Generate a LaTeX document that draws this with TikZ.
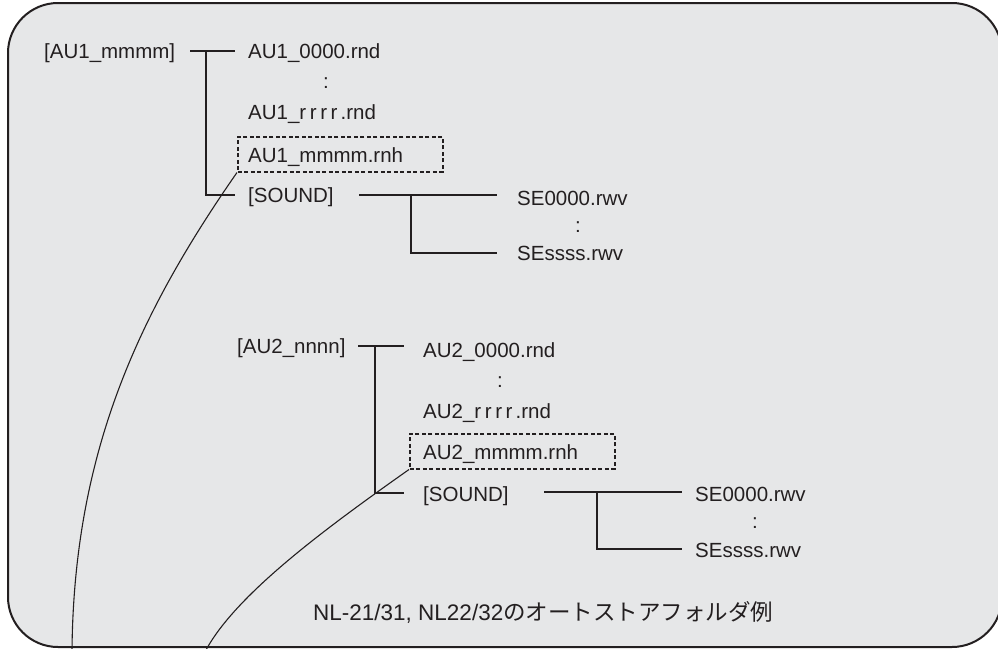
\documentclass[tikz,border=0pt]{standalone}
\usepackage{fontspec}
\setmainfont{Liberation Sans}
\newfontfamily\cjk{Noto Sans CJK JP}
\definecolor{bg}{HTML}{E6E7E8}
\definecolor{ink}{HTML}{231F20}
\begin{document}
\begin{tikzpicture}[x=1pt,y=-1pt,
  font=\fontsize{20.5}{24}\selectfont,
  lbl/.style={inner sep=0pt, anchor=base west, text=ink},
  dots/.style={inner sep=0pt, anchor=base, text=ink},
  tree/.style={draw=ink, line width=1.6pt},
  dbox/.style={draw=ink, dash pattern=on 4pt off 2.5pt, line width=1.5pt, inner sep=0pt, anchor=north west},
  link/.style={draw=ink, line width=1.1pt}]
\useasboundingbox (0,0) rectangle (998,648);
\begin{scope}
  \clip (0,0) rectangle (998,648);
  \draw[fill=bg, draw=ink, line width=2pt, rounded corners=50pt] (8,3) rectangle (1002,647);
\end{scope}

% ---------- upper tree ----------
\node[lbl] (au1) at (44,58) {[AU1\_mmmm]};
\node[lbl] (f1a) at (248,58) {AU1\_0000.rnd};
\node[dots] (c1a) at (326,88) {:};
\node[lbl] (f1b) at (248,119) {AU1\_r\kern3.6pt r\kern3.6pt r\kern3.6pt r\kern3pt.rnd};
\node[dbox, minimum width=205pt, minimum height=35pt] (box1) at (237,136) {};
\node[lbl] (f1c) at (248,162) {AU1\_mmmm.rnh};
\node[lbl] (s1) at (248,202) {[SOUND]};
\node[lbl] (se1a) at (517,205) {SE0000.rwv};
\node[dots] (c1b) at (578,232) {:};
\node[lbl] (se1b) at (517,260) {SEssss.rwv};

\coordinate (a1) at (190,51);
\coordinate (j1) at (206,51);
\coordinate (b1) at (235,51);
\coordinate (k1) at (206,195);
\coordinate (d1) at (235,195);
\coordinate (p1) at (359,195);
\coordinate (q1) at (411,195);
\coordinate (r1) at (497,195);
\coordinate (t1) at (411,253);
\coordinate (u1) at (497,253);
\draw[tree] (a1) -- (b1);
\draw[tree] (j1) -- (k1) -- (d1);
\draw[tree] (p1) -- (r1);
\draw[tree] (q1) -- (t1) -- (u1);

% ---------- lower tree ----------
\node[lbl] (au2) at (237,353) {[AU2\_nnnn]};
\node[lbl] (f2a) at (423,357) {AU2\_0000.rnd};
\node[dots] (c2a) at (500,387) {:};
\node[lbl] (f2b) at (423,418) {AU2\_r\kern3.6pt r\kern3.6pt r\kern3.6pt r\kern3pt.rnd};
\node[dbox, minimum width=205pt, minimum height=35pt] (box2) at (409,433) {};
\node[lbl] (f2c) at (423,459) {AU2\_mmmm.rnh};
\node[lbl] (s2) at (423,501) {[SOUND]};
\node[lbl] (se2a) at (695,501) {SE0000.rwv};
\node[dots] (c2b) at (755,528) {:};
\node[lbl] (se2b) at (695,557) {SEssss.rwv};

\coordinate (a2) at (358,346);
\coordinate (j2) at (375,346);
\coordinate (b2) at (404,346);
\coordinate (k2) at (375,493);
\coordinate (d2) at (404,493);
\coordinate (p2) at (544,492);
\coordinate (q2) at (597,492);
\coordinate (r2) at (682,492);
\coordinate (t2) at (597,549);
\coordinate (u2) at (682,549);
\draw[tree] (a2) -- (b2);
\draw[tree] (j2) -- (k2) -- (d2);
\draw[tree] (p2) -- (r2);
\draw[tree] (q2) -- (t2) -- (u2);

% ---------- caption ----------
\node[lbl] (cap) at (313,620) {\fontsize{22.5}{26}\selectfont NL-21/31, NL22/32{\cjk のオートストアフォルダ例}};

% ---------- leader curves ----------
\coordinate (e1) at (72,650);
\coordinate (e2) at (206,650);
\draw[link] (box1.south west) .. controls (140,312) and (74,450) .. (e1);
\draw[link] (box2.south west) .. controls (329,526) and (237,593) .. (e2);
\end{tikzpicture}
\end{document}
